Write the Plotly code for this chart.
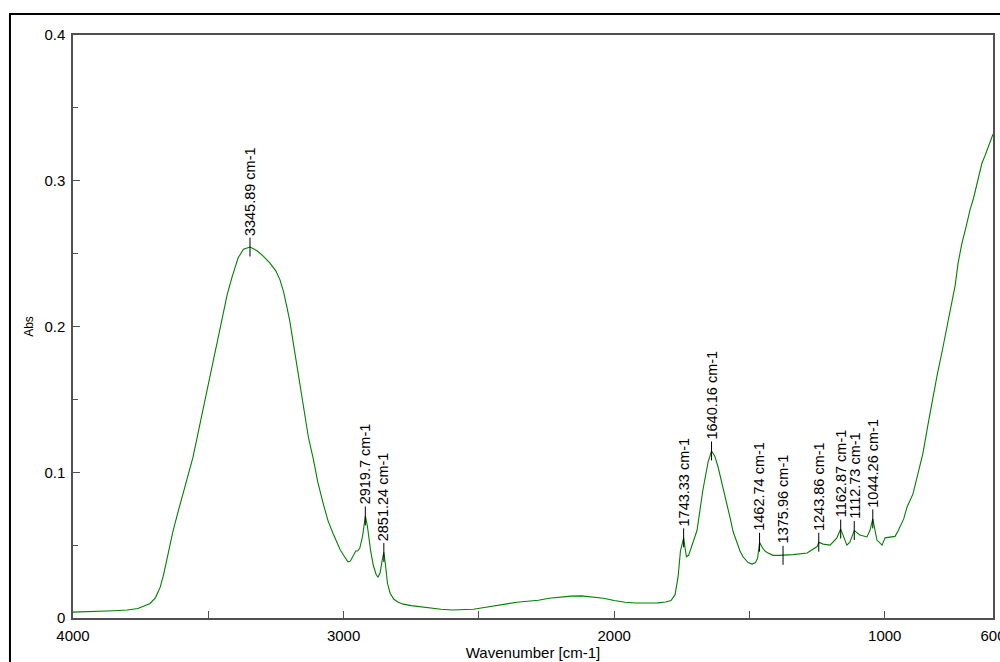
import plotly.graph_objects as go

# FT-IR absorbance spectrum (wavenumber in cm-1, absorbance)
wavenumber = [
    4000, 3950, 3900, 3850, 3800, 3760, 3740, 3715, 3695, 3678, 3665, 3653,
    3630, 3610, 3593, 3575, 3557, 3540, 3520, 3500, 3483, 3465, 3446, 3430,
    3412, 3390, 3370, 3345.89, 3320, 3295, 3272, 3250, 3235, 3222, 3209, 3198,
    3187, 3170, 3150, 3130, 3113, 3095, 3076, 3058, 3039, 3025, 3013, 3000,
    2990, 2984, 2975, 2965, 2955, 2948, 2940, 2930, 2919.7, 2912, 2900, 2890,
    2880, 2873, 2865, 2857, 2851.24, 2845, 2838, 2828, 2815, 2800, 2780, 2750,
    2720, 2680, 2640, 2600, 2560, 2520, 2480, 2440, 2400, 2360, 2320, 2280,
    2240, 2200, 2160, 2120, 2080, 2040, 2000, 1960, 1920, 1880, 1840, 1810,
    1790, 1775, 1764, 1755, 1749, 1743.33, 1738, 1733, 1725, 1715, 1694, 1672,
    1653, 1640.16, 1628, 1616, 1598, 1585, 1572, 1560, 1546, 1535, 1524, 1505,
    1490, 1478, 1470, 1462.74, 1455, 1443, 1435, 1413, 1390, 1375.96, 1339,
    1287, 1250, 1243.86, 1228, 1202, 1177, 1162.87, 1150, 1140, 1129, 1120,
    1112.73, 1092, 1066, 1055, 1044.26, 1029, 1010, 999, 985, 975, 962, 950,
    944, 930, 918, 907, 896, 880, 859, 840, 822, 805, 789, 770, 752, 740, 729,
    715, 700, 685, 672, 659, 650, 641, 630, 622, 612, 604, 600,
]
absorbance = [
    0.0040, 0.0042, 0.0045, 0.0050, 0.0055, 0.0065, 0.0080, 0.0100, 0.0140, 0.0210, 0.0300, 0.0410,
    0.0600, 0.0740, 0.0860, 0.0980, 0.1100, 0.1250, 0.1430, 0.1600, 0.1750, 0.1930, 0.2090, 0.2220,
    0.2340, 0.2470, 0.2530, 0.2545, 0.2520, 0.2480, 0.2435, 0.2380, 0.2320, 0.2240, 0.2130, 0.2030,
    0.1900, 0.1700, 0.1450, 0.1240, 0.1100, 0.0930, 0.0790, 0.0670, 0.0580, 0.0520, 0.0470, 0.0430,
    0.0400, 0.0385, 0.0390, 0.0430, 0.0460, 0.0460, 0.0480, 0.0560, 0.0700, 0.0630, 0.0460, 0.0360,
    0.0300, 0.0280, 0.0310, 0.0400, 0.0450, 0.0360, 0.0240, 0.0170, 0.0130, 0.0110, 0.0095, 0.0085,
    0.0078, 0.0068, 0.0060, 0.0055, 0.0056, 0.0060, 0.0072, 0.0085, 0.0098, 0.0108, 0.0115, 0.0122,
    0.0135, 0.0144, 0.0150, 0.0152, 0.0146, 0.0135, 0.0120, 0.0108, 0.0103, 0.0102, 0.0104, 0.0110,
    0.0120, 0.0160, 0.0280, 0.0460, 0.0510, 0.0550, 0.0480, 0.0420, 0.0430, 0.0480, 0.0600, 0.0880,
    0.1070, 0.1146, 0.1110, 0.1036, 0.0900, 0.0790, 0.0690, 0.0590, 0.0510, 0.0460, 0.0420, 0.0380,
    0.0370, 0.0380, 0.0410, 0.0520, 0.0490, 0.0460, 0.0450, 0.0430, 0.0430, 0.0430, 0.0435,
    0.0446, 0.0490, 0.0520, 0.0507, 0.0500, 0.0550, 0.0610, 0.0540, 0.0500, 0.0520, 0.0560,
    0.0600, 0.0570, 0.0556, 0.0600, 0.0680, 0.0535, 0.0500, 0.0550, 0.0555, 0.0555, 0.0560, 0.0600,
    0.0625, 0.0680, 0.0760, 0.0810, 0.0850, 0.0970, 0.1130, 0.1330, 0.1520, 0.1680, 0.1820, 0.2000, 0.2160, 0.2280, 0.2435,
    0.2570, 0.2680, 0.2800, 0.2880, 0.2980, 0.3050, 0.3120, 0.3170, 0.3210, 0.3260, 0.3310, 0.3320,
]

# Picked peaks
peak_wn = [3345.89, 2919.7, 2851.24, 1743.33, 1640.16, 1462.74, 1375.96,
           1243.86, 1162.87, 1112.73, 1044.26]
peak_abs = [0.2545, 0.0700, 0.0450, 0.0550, 0.1146, 0.0520, 0.0430,
            0.0520, 0.0610, 0.0600, 0.0680]

x_tick_vals = [4000, 3500, 3000, 2500, 2000, 1500, 1000, 600]
x_tick_text = ["4000", "", "3000", "", "2000", "", "1000", "600"]
y_tick_vals = [0, 0.1, 0.2, 0.3, 0.4]
y_tick_text = ["0", "0.1", "0.2", "0.3", "0.4"]

FONT = "Liberation Sans, Arial, sans-serif"
AXIS_GRAY = "#505050"
MARK_HALF = 0.0065

fig = go.Figure()

fig.add_trace(go.Scatter(
    x=wavenumber, y=absorbance, mode="lines",
    line=dict(color="#008000", width=1.1),
    hoverinfo="x+y", showlegend=False,
))

# Short vertical marker through each picked peak
mark_x, mark_y = [], []
for w, a in zip(peak_wn, peak_abs):
    mark_x += [w, w, None]
    mark_y += [a - MARK_HALF, a + MARK_HALF, None]
fig.add_trace(go.Scatter(
    x=mark_x, y=mark_y, mode="lines",
    line=dict(color="#000000", width=1),
    hoverinfo="skip", showlegend=False,
))

for w, a in zip(peak_wn, peak_abs):
    fig.add_annotation(
        x=w, y=a + MARK_HALF, text=f"{w} cm-1",
        textangle=-90, showarrow=False,
        xanchor="center", yanchor="bottom", yshift=0,
        font=dict(family=FONT, size=14.5, color="#000000"),
    )

# Window frame around the chart
fig.add_shape(
    type="rect", xref="paper", yref="paper",
    x0=-0.0685, x1=1.02, y0=-0.1, y1=1.036,
    line=dict(color="#000000", width=2), fillcolor="rgba(0,0,0,0)",
    layer="below",
)

fig.update_layout(
    template="none",
    width=1000, height=662, autosize=False,
    margin=dict(l=73, r=7, t=35, b=44),
    paper_bgcolor="white", plot_bgcolor="white",
    font=dict(family=FONT, size=15, color="#000000"),
    xaxis=dict(
        automargin=False,
        range=[4000, 600], showgrid=False, zeroline=False,
        showline=True, mirror=True, linecolor=AXIS_GRAY, linewidth=1.5,
        ticks="inside", ticklen=7, tickcolor=AXIS_GRAY, tickwidth=1,
        tickvals=x_tick_vals, ticktext=x_tick_text,
        ticklabelstandoff=3, ticklabeloverflow="allow",
        title=dict(text="Wavenumber [cm-1]", standoff=0,
                   font=dict(family=FONT, size=15)),
    ),
    yaxis=dict(
        automargin=False,
        range=[0, 0.4], showgrid=False, zeroline=False,
        showline=True, mirror=True, linecolor=AXIS_GRAY, linewidth=1.5,
        ticks="inside", ticklen=7, tickcolor=AXIS_GRAY, tickwidth=1,
        tickvals=y_tick_vals, ticktext=y_tick_text,
        minor=dict(tickvals=[0.05, 0.15, 0.25, 0.35], ticks="inside",
                   ticklen=5, tickcolor=AXIS_GRAY),
        ticklabelstandoff=3,
        title=dict(text="Abs", standoff=8, font=dict(family=FONT, size=12)),
    ),
)

fig.write_html("out.html")
